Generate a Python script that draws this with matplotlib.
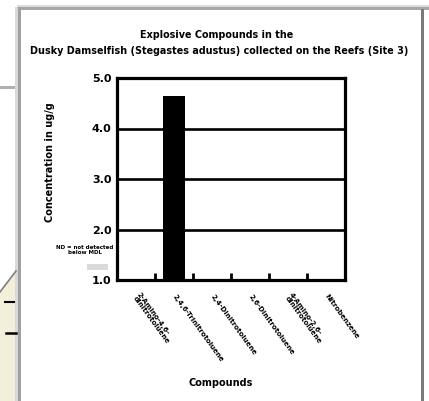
import matplotlib
matplotlib.use("Agg")
import matplotlib.pyplot as plt
from matplotlib.patches import Rectangle, Polygon
from matplotlib.lines import Line2D
import numpy as np

W, H = 429, 401

categories = ["2-Amino-4,6-\ndinitrotoluene", "2,4,6-Trinitrotoluene", "2,4-Dinitrotoluene",
              "2,6-Dinitrotoluene", "4-Amino-2,6-\ndinitrotoluene", "Nitrobenzene"]
values = [0.0, 4.64, 0.0, 0.0, 0.0, 0.0]
yticks = [1.0, 2.0, 3.0, 4.0, 5.0]
ytick_labels = ["1.0", "2.0", "3.0", "4.0", "5.0"]
title_lines = ["Explosive Compounds in the",
               "Dusky Damselfish (Stegastes adustus) collected on the Reefs (Site 3)"]
ylabel = "Concentration in ug/g"
xlabel = "Compounds"
note = "ND = not detected\nbelow MDL"

fig = plt.figure(figsize=(W/100, H/100), dpi=100)
fig.patch.set_facecolor("white")

def fx(x): return x / W
def fy(y): return 1 - y / H

# ---- window frame decorations ----
fig.add_artist(Rectangle((fx(17), fy(10)), fx(412), 3/H, transform=fig.transFigure,
                         facecolor="#a8a8a8", edgecolor="none"))
fig.add_artist(Rectangle((fx(17), fy(7)), fx(412), 2/H, transform=fig.transFigure,
                         facecolor="#dcdcdc", edgecolor="none"))
fig.add_artist(Rectangle((fx(15), fy(H)), fx(3), (H-7)/H, transform=fig.transFigure,
                         facecolor="#d8d8d8", edgecolor="none"))
fig.add_artist(Rectangle((fx(18), fy(H)), fx(3), (H-7)/H, transform=fig.transFigure,
                         facecolor="#a0a0a0", edgecolor="none"))
fig.add_artist(Rectangle((fx(421), fy(H)), fx(3), (H-9)/H, transform=fig.transFigure,
                         facecolor="#7a7a7a", edgecolor="none"))
fig.add_artist(Rectangle((fx(0), fy(89)), fx(15), 3/H, transform=fig.transFigure,
                         facecolor="#b0b0b0", edgecolor="none"))
fig.add_artist(Polygon([(fx(0), fy(292)), (fx(15), fy(272)), (fx(15), fy(H)), (fx(0), fy(H))],
                       closed=True, transform=fig.transFigure, facecolor="#f3efdb", edgecolor="none"))
fig.add_artist(Line2D([fx(0), fx(16)], [fy(292), fy(271)], transform=fig.transFigure,
                      color="#808080", lw=1.2))
fig.add_artist(Line2D([fx(5), fx(14)], [fy(302), fy(302)], transform=fig.transFigure,
                      color="black", lw=1.5))
fig.add_artist(Line2D([fx(6), fx(16)], [fy(333), fy(333)], transform=fig.transFigure,
                      color="black", lw=1.8))
fig.add_artist(Rectangle((fx(87), fy(270)), fx(21), 6/H, transform=fig.transFigure,
                         facecolor="#dadada", edgecolor="none"))

# ---- chart ----
ax = fig.add_axes([fx(117), fy(280), fx(345-117), (280-78)/H])
x = np.arange(len(categories))
ax.bar(x, values, width=0.58, bottom=0, color="black", zorder=3)
ax.set_xlim(-0.5, len(categories) - 0.5)
ax.set_ylim(1.0, 5.0)
ax.set_yticks(yticks)
ax.set_yticklabels(ytick_labels, fontsize=8, fontweight="bold")
ax.tick_params(axis="y", length=0, pad=4)
for yv in yticks[1:-1]:
    ax.axhline(yv, color="black", lw=1.9, zorder=2)
for s in ax.spines.values():
    s.set_linewidth(2.3)
ax.set_xticks(x)
ax.set_xticklabels([])
ax.tick_params(axis="x", which="major", length=0)
ax.set_xticks(np.arange(0.5, len(categories) - 1, 1.0), minor=True)
ax.tick_params(axis="x", which="minor", direction="in", length=5, width=2, color="black")

for xi, lab in zip(x, categories):
    ax.annotate(lab, xy=(xi, 1.0), xycoords="data", xytext=(0, -11), textcoords="offset points",
                rotation=-54, rotation_mode="anchor", ha="left", va="center",
                fontsize=5, fontweight="bold", linespacing=0.9, annotation_clip=False)

fig.text(fx(217), fy(35), title_lines[0], ha="center", va="center", fontsize=6.9, fontweight="bold")
fig.text(fx(219), fy(51), title_lines[1], ha="center", va="center", fontsize=6.9, fontweight="bold")
fig.text(fx(50), fy(162), ylabel, rotation=90, ha="center", va="center", fontsize=7, fontweight="bold")
fig.text(fx(221), fy(383), xlabel, ha="center", va="center", fontsize=7, fontweight="bold")
fig.text(fx(85), fy(250), note, ha="center", va="center", fontsize=4, fontweight="bold", linespacing=1.0)

fig.savefig("out.png", dpi=100)
